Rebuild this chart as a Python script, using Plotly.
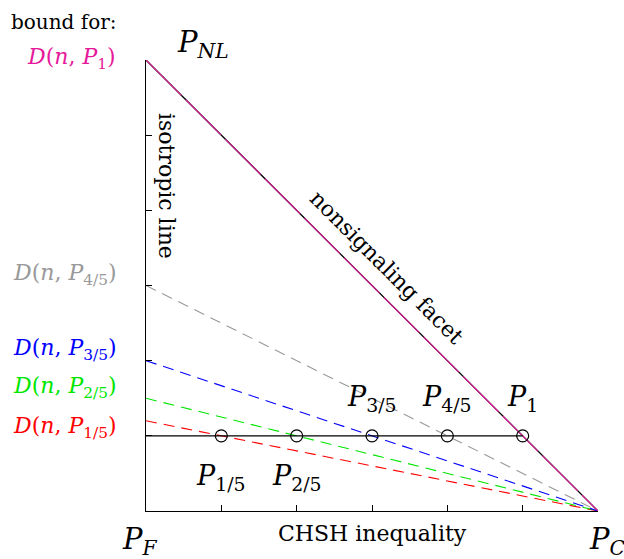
import plotly.graph_objects as go

# data
point_subs = ["1/5", "2/5", "3/5", "4/5", "1"]
bound_subs = ["1/5", "2/5", "3/5", "4/5", "1"]
point_x = [1/6, 2/6, 3/6, 4/6, 5/6]
point_y = [1/6, 1/6, 1/6, 1/6, 1/6]
bound_y0 = [1/5, 1/4, 1/3, 1/2, 1.0]
bound_colors = ["#ff0000", "#00e600", "#0000ff", "#999999", "#e6199a"]
tick_vals = [1/6, 2/6, 3/6, 4/6, 5/6]
vert_NL = (0, 1)
vert_C = (1, 0)

FONT = "DejaVu Serif"
W, H = 624, 559
ml, mr, mt, mb = 146, 26, 60, 48

def px2paper(x, y):
    return (x - ml) / (W - ml - mr), 1 - (y - mt) / (H - mt - mb)

fig = go.Figure()
fig.add_trace(go.Scatter(x=[vert_NL[0], vert_C[0]], y=[vert_NL[1], vert_C[1]], mode="lines",
                         line=dict(color="black", width=1.3), cliponaxis=False, hoverinfo="skip"))
for i, (b, c) in enumerate(zip(bound_y0, bound_colors)):
    dash = "50px,6px" if i == 4 else "11px,7px"
    fig.add_trace(go.Scatter(x=[0, vert_C[0]], y=[b, vert_C[1]], mode="lines",
                             line=dict(color=c, width=1.1, dash=dash), cliponaxis=False, hoverinfo="skip"))
fig.add_trace(go.Scatter(x=[0, point_x[-1]], y=[point_y[0], point_y[-1]], mode="lines",
                         line=dict(color="black", width=1.1), cliponaxis=False, hoverinfo="skip"))
fig.add_trace(go.Scatter(x=point_x, y=point_y, mode="markers",
                         marker=dict(symbol="circle-open", size=12, color="black", line=dict(width=1.2)),
                         cliponaxis=False, hoverinfo="skip"))

ann = []
def D(x, y, text, size=20, color="black", xanchor="center", xshift=0, yshift=0):
    ann.append(dict(x=x, y=y, xref="x", yref="y", text=text, showarrow=False,
                    font=dict(family=FONT, size=size, color=color),
                    xanchor=xanchor, yanchor="middle", xshift=xshift, yshift=yshift))

def P(x, y, text, size=20, color="black", xanchor="center", angle=0):
    xx, yy = px2paper(x, y)
    ann.append(dict(x=xx, y=yy, xref="paper", yref="paper", text=text, showarrow=False,
                    font=dict(family=FONT, size=size, color=color),
                    xanchor=xanchor, yanchor="middle", textangle=angle))

for i, (px, py, s) in enumerate(zip(point_x, point_y, point_subs)):
    label = "<i>P</i><sub>%s</sub>" % s
    D(px, py, label, size=27, yshift=(-42 if i < 2 else 37))

label_shift = [-7, 11, 11, 11]
for i, (b, c, s) in enumerate(zip(bound_y0, bound_colors, bound_subs)):
    label = "<i>D</i>(<i>n</i>, <i>P</i><sub>%s</sub>)" % s
    if i == 4:
        P(118, 58, label, size=22, color=c, xanchor="right")
    else:
        D(0, b, label, size=22, color=c, xanchor="right", xshift=-27, yshift=label_shift[i])

P(64, 22, "bound for:", size=20)
P(203, 44, "<i>P</i><sub><i>NL</i></sub>", size=29)
P(140, 541, "<i>P</i><sub><i>F</i></sub>", size=29)
P(607, 541, "<i>P</i><sub><i>C</i></sub>", size=29)
P(372, 533, "CHSH inequality", size=22)
P(166, 186, "isotropic line", size=22, angle=90)
P(387, 267, "nonsignaling facet", size=22, angle=45)

fig.update_layout(
    width=W, height=H, margin=dict(l=ml, r=mr, t=mt, b=mb),
    plot_bgcolor="white", paper_bgcolor="white", showlegend=False,
    annotations=ann,
    xaxis=dict(range=[0, 1], showgrid=False, zeroline=False, showline=True, linecolor="black", linewidth=1.3,
               ticks="inside", tickvals=tick_vals, ticklen=6, tickcolor="black", showticklabels=False, fixedrange=True),
    yaxis=dict(range=[0, 1], showgrid=False, zeroline=False, showline=True, linecolor="black", linewidth=1.3,
               ticks="inside", tickvals=tick_vals, ticklen=6, tickcolor="black", showticklabels=False, fixedrange=True),
)
fig.write_html("out.html", config={"displayModeBar": False},
               post_script="document.body.style.margin='0';document.body.style.overflow='hidden';")
